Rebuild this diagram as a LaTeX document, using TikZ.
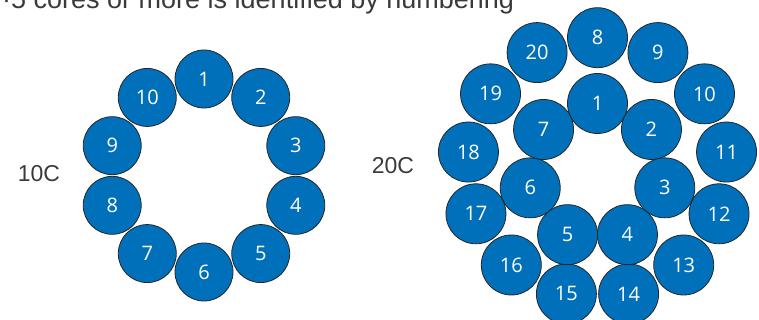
\documentclass[tikz,border=0pt]{standalone}
\usepackage{fontspec}
\setmainfont{Liberation Sans}
\newfontfamily\numfont{Open Sans}
\definecolor{coreblue}{HTML}{0070BA}
\definecolor{coreedge}{HTML}{262626}
\definecolor{txtgray}{HTML}{3A3A3A}
\begin{document}
\begin{tikzpicture}[x=1pt,y=-1pt,
  core/.style={circle,draw=coreedge,line width=0.8pt,fill=coreblue,text=white,
    minimum size=#1,inner sep=0pt,font=\numfont\fontsize{20}{20}\selectfont},
  core/.default=58pt,
  label/.style={text=txtgray,font=\fontsize{23}{23}\selectfont,inner sep=0pt}]
\useasboundingbox (0,0) rectangle (759,320);
\node[label,anchor=base west,font=\fontsize{27}{27}\selectfont] (title) at (2,9) {·5 cores or more is identified by numbering};
\node[label] (l10) at (39,174) {10C};
\node[label] (l20) at (393,166) {20C};
% 10C
\foreach \i in {1,...,10}{
  \pgfmathsetmacro\ang{90-(\i-1)*36}
  \node[core] (a\i) at ({204+96.5*cos(\ang)},{175.5-96.5*sin(\ang)}) {\i};
}
% 20C outer ring
\foreach \i in {8,...,20}{
  \pgfmathsetmacro\ang{90-(\i-8)*360/13}
  \node[core=60pt] (b\i) at ({597.5+130*cos(\ang)},{167.7-130*sin(\ang)}) {\i};
}
% 20C inner ring
\foreach \i in {1,...,7}{
  \pgfmathsetmacro\ang{90-(\i-1)*360/7}
  \node[core=60pt] (b\i) at ({597.5+69*cos(\ang)},{172.5-69*sin(\ang)}) {\i};
}
\end{tikzpicture}
\end{document}
